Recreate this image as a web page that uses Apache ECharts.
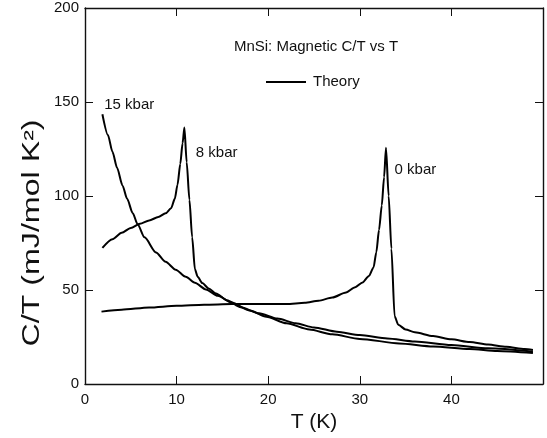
<!DOCTYPE html>
<html>
<head>
<meta charset="utf-8">
<script src="https://cdn.jsdelivr.net/npm/echarts@6/dist/echarts.min.js"></script>
<style>
html,body{margin:0;padding:0;background:#fff;}
#chart{width:547px;height:438px;}
</style>
</head>
<body>
<div id="chart"></div>
<script>
// ---- Data ----
var xTicks = [0, 10, 20, 30, 40];
var yTicks = [0, 50, 100, 150, 200];

var t0  = [1.8, 4, 7, 10, 13, 16, 19, 22, 24, 25.5, 27, 28.5, 29.5, 30.3, 31, 31.5, 31.8, 32.1, 32.4, 32.65, 32.86, 33.15, 33.45, 33.8, 34.2, 35, 36, 38, 40, 42, 44, 46, 48, 48.9];
var c0  = [38.5, 39.5, 40.7, 41.6, 42.2, 42.5, 42.5, 42.5, 43.2, 44.3, 46, 48.7, 51.5, 54, 57.5, 62, 70, 82, 95, 110, 125.7, 100, 72, 36, 31.5, 29, 27.5, 25.5, 23.8, 22.3, 21, 19.8, 18.6, 18.1];

var t8  = [1.9, 3, 4, 5, 6, 7, 8, 8.8, 9.4, 9.8, 10.1, 10.4, 10.65, 10.85, 11.1, 11.4, 11.7, 12.0, 12.3, 12.8, 13.5, 14.3, 15.5, 17, 19, 21, 23, 25, 27.5, 30, 33, 36, 40, 44, 48.9];
var c8  = [72.4, 77, 80.4, 83, 85.2, 87, 88.8, 90.8, 93.5, 98.5, 106, 117, 128, 136.4, 118, 98, 78, 61, 57, 53.7, 50.8, 48.2, 44.6, 40.8, 37.6, 34.8, 32.3, 30.1, 27.8, 26.0, 24.2, 22.6, 20.7, 19, 17.2];

var t15 = [1.9, 2.5, 3, 3.5, 4.1, 4.6, 5.2, 5.74, 6.5, 7.75, 8.8, 9.9, 11, 12, 13.2, 14.5, 16, 18, 19.8, 22, 24.5, 27, 30, 34.3, 38, 42, 45, 48.9];
var c15 = [143.5, 132.5, 123.5, 115, 105.5, 98.5, 91, 85, 78, 70, 65, 60.8, 57, 53.8, 50.3, 46.9, 43.3, 39.1, 35.8, 32.3, 29.0, 26.4, 24.0, 21.6, 20.0, 18.6, 17.6, 16.5];

var seriesNames = ['0 kbar', '8 kbar', '15 kbar'];
var labelPos = [[33.8, 113.8], [12.1, 123], [2.1, 148.6]];

function zip(a, b) { return a.map(function (v, i) { return [v, b[i]]; }); }

var FONT = '"Liberation Sans", Arial, Helvetica, sans-serif';
var INK = '#111';

var chart = echarts.init(document.getElementById('chart'), null, {renderer: 'canvas'});

function axisBase() {
  return {
    axisLine: {show: true, onZero: false, lineStyle: {color: INK, width: 1.4}},
    axisTick: {show: true, inside: true, length: 8, lineStyle: {color: INK, width: 1}},
    splitLine: {show: false}
  };
}

function mkSeries(name, t, c, lp) {
  return {
    type: 'line', name: name, data: zip(t, c),
    showSymbol: false, symbol: 'none', smooth: 0.25, smoothMonotone: 'x',
    lineStyle: {color: '#000', width: 2},
    animation: false,
    markPoint: {
      symbol: 'rect', symbolSize: 0,
      data: [{coord: lp, value: name}],
      label: {show: true, position: 'right', distance: 0, formatter: name,
        color: INK, fontFamily: FONT, fontSize: 15}
    }
  };
}

var option = {
  animation: false,
  backgroundColor: '#fff',
  grid: {left: 85, right: 4, top: 8, bottom: 54},
  xAxis: [
    Object.assign(axisBase(), {
      type: 'value', min: 0, max: 50, interval: 10, position: 'bottom',
      axisLabel: {show: true, color: INK, fontFamily: FONT, fontSize: 15, margin: 8,
        formatter: function (v) { return xTicks.indexOf(v) >= 0 ? String(v) : ''; }},
      name: 'T (K)', nameLocation: 'middle', nameGap: 25,
      nameTextStyle: {color: INK, fontFamily: FONT, fontSize: 21}
    }),
    Object.assign(axisBase(), {
      type: 'value', min: 0, max: 50, interval: 10, position: 'top',
      axisLabel: {show: false}
    })
  ],
  yAxis: [
    Object.assign(axisBase(), {
      type: 'value', min: 0, max: 200, interval: 50, position: 'left',
      axisLabel: {show: true, color: INK, fontFamily: FONT, fontSize: 15, margin: 6,
        formatter: function (v) { return yTicks.indexOf(v) >= 0 ? String(v) : ''; }}
    }),
    Object.assign(axisBase(), {
      type: 'value', min: 0, max: 200, interval: 50, position: 'right',
      axisLabel: {show: false}
    })
  ],
  graphic: [
    {type: 'text', style: {text: 'MnSi: Magnetic C/T vs T', x: 316, y: 47,
      textAlign: 'center', textVerticalAlign: 'middle', fill: INK, font: '15px ' + FONT}},
    {type: 'line', shape: {x1: 266, y1: 82, x2: 306, y2: 82}, style: {stroke: '#000', lineWidth: 2}},
    {type: 'text', style: {text: 'Theory', x: 313, y: 82, textAlign: 'left', textVerticalAlign: 'middle',
      fill: INK, font: '15px ' + FONT}},
    {type: 'text', rotation: Math.PI / 2, x: 33, y: 233, scaleX: 1.4, scaleY: 1,
      style: {text: 'C/T (mJ/mol K\u00B2)', x: 0, y: 0, textAlign: 'center', textVerticalAlign: 'middle',
      fill: INK, font: '23px ' + FONT}}
  ],
  series: [
    mkSeries(seriesNames[0], t0, c0, labelPos[0]),
    mkSeries(seriesNames[1], t8, c8, labelPos[1]),
    mkSeries(seriesNames[2], t15, c15, labelPos[2])
  ]
};
chart.setOption(option);
</script>
</body>
</html>
